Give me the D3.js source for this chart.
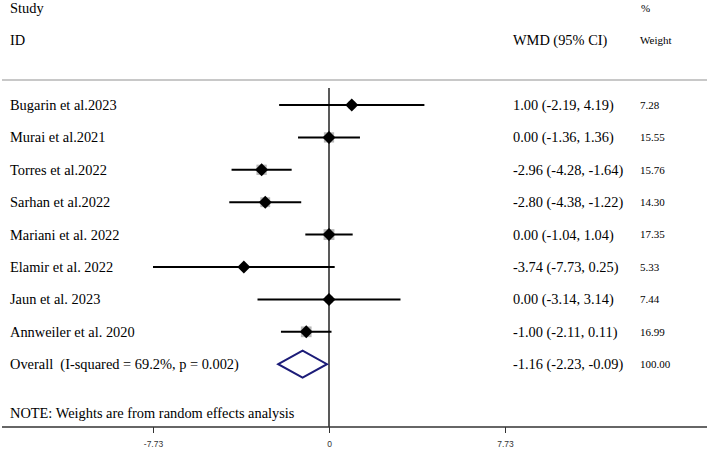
<!DOCTYPE html>
<html><head><meta charset="utf-8">
<script src="https://cdn.jsdelivr.net/npm/d3@7"></script>
<style>body{margin:0;background:#fff}svg{display:block}</style>
</head><body>
<svg id="c" width="709" height="450"></svg>
<script>
const studies = ["Bugarin et al.2023","Murai et al.2021","Torres et al.2022","Sarhan et al.2022","Mariani et al. 2022","Elamir et al. 2022","Jaun et al. 2023","Annweiler et al. 2020"];
const effects = [1.00, 0.00, -2.96, -2.80, 0.00, -3.74, 0.00, -1.00];
const lower = [-2.19, -1.36, -4.28, -4.38, -1.04, -7.73, -3.14, -2.11];
const upper = [4.19, 1.36, -1.64, -1.22, 1.04, 0.25, 3.14, 0.11];
const weights = [7.28, 15.55, 15.76, 14.30, 17.35, 5.33, 7.44, 16.99];
const overallLabel = "Overall  (I-squared = 69.2%, p = 0.002)";
const overall = {es: -1.16, lo: -2.23, hi: -0.09, w: 100.00};
const tickValues = [-7.73, 0, 7.73];
const tickLabels = ["-7.73", "0", "7.73"];

const svg = d3.select("#c");
const serif = "'Liberation Serif','Times New Roman',serif";
const x = d3.scaleLinear().domain([-7.73, 7.73]).range([153, 505]);
const y = d3.scaleLinear().domain([0, 1]).range([105, 137.4]);
const f2 = d3.formatLocale({decimal: ".", thousands: ",", grouping: [3], currency: ["", ""], minus: "-"}).format(".2f");
const ciText = (e, l, h) => `${f2(e)} (${f2(l)}, ${f2(h)})`;
const FS = 14.4, WS = 11;

// headers
const hdr = [["Study",10,8],["ID",10,40],["WMD (95% CI)",513,40]];
hdr.forEach(([t,xx,yy]) => svg.append("text").attr("x",xx).attr("y",yy).attr("dy","0.35em")
  .attr("font-family",serif).attr("font-size",FS).attr("fill","#000").text(t));
svg.append("text").attr("x",641).attr("y",8).attr("dy","0.35em").attr("font-family",serif).attr("font-size",WS).attr("fill","#000").text("%");
svg.append("text").attr("x",640).attr("y",40).attr("dy","0.35em").attr("font-family",serif).attr("font-size",WS).attr("fill","#000").text("Weight");

// top separator
svg.append("line").attr("x1",2).attr("x2",707).attr("y1",80).attr("y2",80).attr("stroke","#c8c8c8").attr("stroke-width",2);

// zero line
svg.append("line").attr("x1",x(0)).attr("x2",x(0)).attr("y1",88).attr("y2",427).attr("stroke","#222").attr("stroke-width",1.5);

// study rows
const g = svg.append("g");
studies.forEach((s, i) => {
  const yy = y(i);
  g.append("text").attr("x",10).attr("y",yy).attr("dy","0.35em").attr("font-family",serif).attr("font-size",FS).attr("fill","#000").text(s);
  g.append("text").attr("x",513).attr("y",yy).attr("dy","0.35em").attr("font-family",serif).attr("font-size",FS).attr("fill","#000").text(ciText(effects[i], lower[i], upper[i]));
  g.append("text").attr("x",640).attr("y",yy).attr("dy","0.35em").attr("font-family",serif).attr("font-size",WS).attr("fill","#000").text(f2(weights[i]));
  g.append("line").attr("x1",x(lower[i])).attr("x2",x(upper[i])).attr("y1",yy).attr("y2",yy).attr("stroke","#000").attr("stroke-width",2);
  const side = 2.6 * Math.sqrt(weights[i]);
  g.append("rect").attr("x",x(effects[i]) - side/2).attr("y",yy - side/2).attr("width",side).attr("height",side).attr("fill","#b8b8b8");
  const cx = x(effects[i]), r = 6.5;
  g.append("path").attr("d",`M${cx-r},${yy}L${cx},${yy-r}L${cx+r},${yy}L${cx},${yy+r}Z`).attr("fill","#000");
});

// overall
const yo = y(studies.length);
svg.append("text").attr("x",10).attr("y",yo).attr("dy","0.35em").attr("font-family",serif).attr("font-size",FS).attr("fill","#000").style("white-space","pre").text(overallLabel);
svg.append("text").attr("x",513).attr("y",yo).attr("dy","0.35em").attr("font-family",serif).attr("font-size",FS).attr("fill","#000").text(ciText(overall.es, overall.lo, overall.hi));
svg.append("text").attr("x",640).attr("y",yo).attr("dy","0.35em").attr("font-family",serif).attr("font-size",WS).attr("fill","#000").text(f2(overall.w));
const h = 13.5;
svg.append("path").attr("d",`M${x(overall.lo)},${yo}L${x(overall.es)},${yo-h}L${x(overall.hi)},${yo}L${x(overall.es)},${yo+h}Z`)
  .attr("fill","#fff").attr("stroke","#1c1c78").attr("stroke-width",2);

// note
svg.append("text").attr("x",10).attr("y",y(studies.length + 1.5)).attr("dy","0.35em").attr("font-family",serif).attr("font-size",FS).attr("fill","#000").text("NOTE: Weights are from random effects analysis");

// axis
svg.append("line").attr("x1",2).attr("x2",707).attr("y1",427).attr("y2",427).attr("stroke","#333").attr("stroke-width",1.5);
const axis = d3.axisBottom(x).tickValues(tickValues).tickSize(6).tickFormat((d,i) => tickLabels[i]);
const ag = svg.append("g").attr("transform","translate(0,427)").call(axis);
ag.select(".domain").remove();
ag.selectAll(".tick line").attr("stroke","#333");
ag.selectAll(".tick text").attr("font-family","'Liberation Sans',Arial,sans-serif").attr("font-size",8.5).attr("fill","#333").attr("y",14);
</script>
</body></html>
